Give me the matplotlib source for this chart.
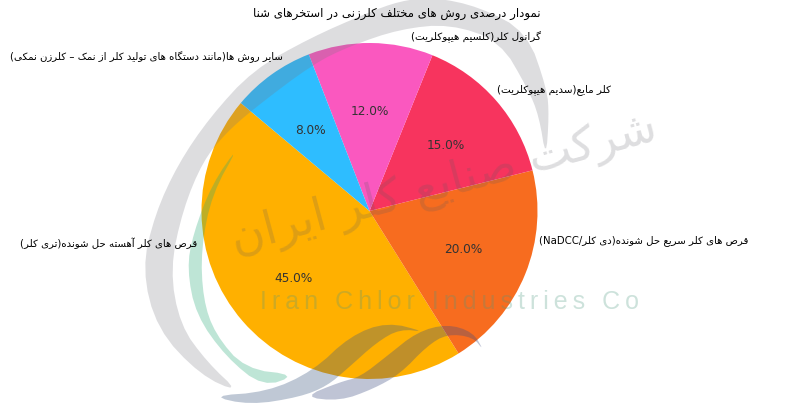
import numpy as np
import matplotlib
matplotlib.use("Agg")
import matplotlib.pyplot as plt
from matplotlib.patches import Polygon

# Datos del grafico
etiquetas = [
    "قرص های کلر آهسته حل شونده(تری کلر)",
    "قرص های کلر سریع حل شونده(دی کلر/NaDCC)",
    "کلر مایع(سدیم هیپوکلریت)",
    "گرانول کلر(کلسیم هیپوکلریت)",
    "سایر روش ها(مانند دستگاه های تولید کلر از نمک – کلرزن نمکی)",
]
valores = [45, 20, 15, 12, 8]
colores = ["#FFB000", "#F76C1F", "#F7345E", "#FA58BF", "#2EBDFF"]
titulo = "نمودار درصدی روش های مختلف کلرزنی در استخرهای شنا"

# Formas de presentacion: aislada, final, inicial, media
def cuatro(base):
    return tuple(chr(base + i) for i in range(4))

FORMAS = {
    "ب": cuatro(0xFE8F), "ت": cuatro(0xFE95), "ح": cuatro(0xFEA1), "خ": cuatro(0xFEA5),
    "س": cuatro(0xFEB1), "ش": cuatro(0xFEB5), "ص": cuatro(0xFEB9), "ع": cuatro(0xFEC9),
    "ف": cuatro(0xFED1), "ق": cuatro(0xFED5), "ل": cuatro(0xFEDD), "م": cuatro(0xFEE1),
    "ن": cuatro(0xFEE5), "ه": cuatro(0xFEE9), "ی": cuatro(0xFBFC), "ک": cuatro(0xFB8E),
    "گ": cuatro(0xFB92), "پ": cuatro(0xFB56),
    "ا": ("\uFE8D", "\uFE8E"), "آ": ("\uFE81", "\uFE82"), "د": ("\uFEA9", "\uFEAA"),
    "ر": ("\uFEAD", "\uFEAE"), "ز": ("\uFEAF", "\uFEB0"), "و": ("\uFEED", "\uFEEE"),
}


def persa(texto):
    # matplotlib no une letras ni invierte el orden, se hace aqui
    salida = []
    for i, c in enumerate(texto):
        if c not in FORMAS:
            salida.append(c)
            continue
        antes = i > 0 and texto[i - 1] in FORMAS and len(FORMAS[texto[i - 1]]) == 4
        despues = i + 1 < len(texto) and texto[i + 1] in FORMAS
        f = FORMAS[c]
        if len(f) == 2:
            salida.append(f[1] if antes else f[0])
        elif antes and despues:
            salida.append(f[3])
        elif antes:
            salida.append(f[1])
        elif despues:
            salida.append(f[2])
        else:
            salida.append(f[0])
    s = "".join(salida)
    partes = []
    latino = ""
    for c in s:
        if c.isascii() and c.isalpha():
            latino += c
        else:
            if latino:
                partes.append(latino)
                latino = ""
            partes.append({"(": ")", ")": "("}.get(c, c))
    if latino:
        partes.append(latino)
    return "".join(reversed(partes))


fig = plt.figure(figsize=(8, 4.06), dpi=100)
ax = fig.add_axes([0, 0, 1, 1])

ax.pie(
    valores,
    colors=colores,
    autopct="%1.1f%%",
    startangle=140,
    center=(369.5, 406 - 212),
    radius=168,
    frame=True,
    textprops={"fontsize": 8.7, "color": "#333333"},
)
ax.set_xlim(0, 800)
ax.set_ylim(0, 406)
ax.set_aspect("equal")
ax.axis("off")


def p(x, y):
    return (x, 406 - y)


def suave(puntos, n=2):
    # Suavizado de Chaikin para la marca de agua
    pts = np.array(puntos, dtype=float)
    for _ in range(n):
        q = 0.75 * pts + 0.25 * np.roll(pts, -1, axis=0)
        r = 0.25 * pts + 0.75 * np.roll(pts, -1, axis=0)
        pts = np.empty((2 * len(q), 2))
        pts[0::2] = q
        pts[1::2] = r
    return pts


def marca(puntos, color, alpha):
    ax.add_patch(Polygon(suave([p(*c) for c in puntos]), closed=True, fc=color, ec="none", alpha=alpha, zorder=5))


# Marca de agua: arcos
gris = [
    (546, 160), (549, 117), (547, 90), (527, 33), (480, 8), (433, -2), (400, 2), (367, 14), (310, 39),
    (253, 71), (210, 118), (178, 165), (155, 215), (142, 270), (157, 330), (200, 376), (240, 394),
    (207, 363), (180, 326), (170, 270), (183, 210), (203, 162), (225, 135), (252, 111), (313, 65),
    (350, 47), (400, 30), (450, 25), (500, 42), (528, 90), (539, 117),
]
verde = [
    (240, 145), (212, 185), (193, 235), (187, 270), (196, 316), (226, 358), (263, 388), (297, 376),
    (245, 370), (215, 335), (203, 300), (201, 250), (212, 195),
]
ola_a = [
    (210, 397), (267, 393), (313, 372), (350, 337), (387, 323), (426, 333), (400, 330), (377, 343),
    (347, 370), (327, 387), (300, 398), (250, 406),
]
ola_b = [
    (303, 398), (340, 383), (360, 378), (387, 357), (417, 333), (447, 325), (473, 333), (484, 352),
    (473, 338), (447, 335), (427, 347), (400, 375), (373, 390), (340, 402),
]
marca(gris, (0.47, 0.47, 0.51), 0.25)
marca(verde, (0.16, 0.67, 0.47), 0.3)
marca(ola_a, (0.24, 0.35, 0.51), 0.33)
marca(ola_b, (0.24, 0.30, 0.51), 0.33)

ax.text(449.5, 406 - 302, "\u2009".join("Iran Chlor Industries Co"), fontsize=18,
        family=["Liberation Sans", "DejaVu Sans"], color=(0.3, 0.6, 0.5),
        alpha=0.28, ha="center", va="center", zorder=6)
ax.text(444, 406 - 185, persa("شرکت صنایع کلر ایران"), fontsize=33, color=(0.35, 0.35, 0.38),
        alpha=0.2, ha="center", va="center", rotation=15, rotation_mode="anchor", zorder=6)

# Etiquetas colocadas a mano como en el original
ax.text(541, 406 - 14, persa(titulo), fontsize=8.5, ha="right", va="center", color="black", zorder=7)
ax.text(197, 406 - 243, persa(etiquetas[0]), fontsize=7.3, ha="right", va="center", zorder=7)
ax.text(539, 406 - 241, persa(etiquetas[1]), fontsize=7.3, ha="left", va="center", zorder=7)
ax.text(497, 406 - 90, persa(etiquetas[2]), fontsize=7.5, ha="left", va="center", zorder=7)
ax.text(541, 406 - 37, persa(etiquetas[3]), fontsize=7.5, ha="right", va="center", zorder=7)
ax.text(283, 406 - 57, persa(etiquetas[4]), fontsize=7.3, ha="right", va="center", zorder=7)

fig.savefig("out.png", dpi=100)
